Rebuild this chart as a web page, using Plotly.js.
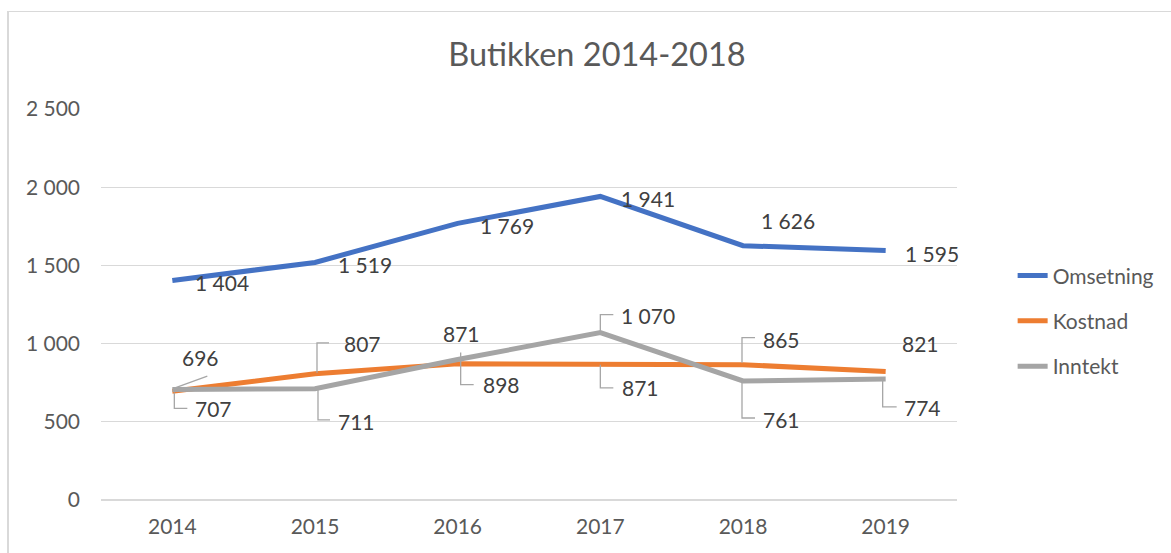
<!DOCTYPE html>
<html>
<head>
<meta charset="utf-8">
<script src="https://cdn.plot.ly/plotly-3.0.1.min.js"></script>
<style>
  html, body { margin: 0; padding: 0; overflow: hidden; background: #fff; }
  #wrap { position: relative; width: 1171px; height: 553px; overflow: hidden; }
  #chart { width: 1171px; height: 553px; }
  #frame { position: absolute; left: 7px; top: 11px; width: 2000px; height: 2000px;
           border-left: 2px solid #D9D9D9; border-top: 1.5px solid #D9D9D9; pointer-events: none; }
</style>
</head>
<body>
<div id="wrap"><div id="chart"></div><div id="frame"></div></div>
<script>
// ---- data ----
const years = ['2014', '2015', '2016', '2017', '2018', '2019'];
const omsetning = [1404, 1519, 1769, 1941, 1626, 1595];
const kostnad = [696, 807, 871, 871, 865, 821];
const inntekt = [707, 711, 898, 1070, 761, 774];
const seriesNames = ['Omsetning', 'Kostnad', 'Inntekt'];
const yTicks = [0, 500, 1000, 1500, 2000, 2500];

// ---- styles ----
const colors = ['#4472C4', '#ED7D31', '#A5A5A5'];
const FONT = 'Lato, "Open Sans", sans-serif';
// label offsets from point, screen px [dx, dy(down)]
const labelOffsets = [
  [[50, 2], [50, 2], [49, 2], [48, 2], [45, -25], [46, 3]],
  [[28, -34], [47, -30], [4, -30], [40, 24], [38, -25], [35, -28]],
  [[41, 19], [41, 33], [44, 25], [48, -17], [38, 39], [37, 29]]
];
// leader lines, screen px relative to point: [x, yStart, yEnd, hookX] or diag ['d', x0,y0,x1,y1]
const leaders = [
  [null, null, null, null, null, null],
  [['d', 2, -3, 35, -15], [2, -1, -31, 14], null, [0, 1, 24, 13], [-1, -2, -27, 12], null],
  [[2, 3, 19, 15], [3, 1, 31, 15], [3, -7, 25, 16], [0, 0, -18, 13], [-1, 0, 37, 12], [-3, 0, 28, 11]]
];

function fmt(v) { return String(v).replace(/\B(?=(\d{3})+(?!\d))/g, ' '); }

const xs = years.map((_, i) => i);
const allVals = [omsetning, kostnad, inntekt];

const traces = allVals.map((vals, s) => ({
  x: xs, y: vals, type: 'scatter', mode: 'lines', name: seriesNames[s],
  legendgroup: 'g' + s,
  line: { color: colors[s], width: 5 },
  hoverinfo: 'skip'
}));

const annotations = [];
const shapes = [];
allVals.forEach((vals, s) => {
  vals.forEach((v, i) => {
    const off = labelOffsets[s][i];
    annotations.push({
      x: i, y: v, xref: 'x', yref: 'y', text: fmt(v), showarrow: false,
      xshift: off[0], yshift: -off[1],
      font: { family: FONT, size: 21, color: '#404040' }
    });
    const L = leaders[s][i];
    if (L) {
      let path;
      if (L[0] === 'd') {
        path = `M${L[1]},${-L[2]} L${L[3]},${-L[4]}`;
      } else {
        path = `M${L[0]},${-L[1]} L${L[0]},${-L[2]} L${L[3]},${-L[2]}`;
      }
      shapes.push({
        type: 'path', xref: 'x', yref: 'y', xsizemode: 'pixel', ysizemode: 'pixel',
        xanchor: i, yanchor: v, path: path,
        line: { color: '#A6A6A6', width: 1.3 }
      });
    }
  });
});

const layout = {
  width: 1171, height: 553,
  margin: { l: 101, r: 214, t: 109, b: 53, pad: 0 },
  paper_bgcolor: '#ffffff', plot_bgcolor: '#ffffff',
  separators: ', ',
  font: { family: FONT, size: 21, color: '#595959' },
  title: {
    text: 'Butikken 2014-2018', xref: 'container', x: 0.5098, xanchor: 'center',
    yref: 'container', y: 0.9005, yanchor: 'middle',
    font: { family: FONT, size: 32.5, color: '#595959' }
  },
  xaxis: {
    range: [-0.5, 5.5], tickvals: xs, ticktext: years, showgrid: false,
    zeroline: false, showline: false, ticks: '', ticklabelstandoff: 12,
    tickfont: { family: FONT, size: 21, color: '#595959' }, fixedrange: true
  },
  yaxis: {
    range: [0, 2500], tickvals: yTicks, tickformat: ',d', showgrid: true,
    gridcolor: '#D9D9D9', gridwidth: 1.3, zeroline: true, zerolinecolor: '#D9D9D9', zerolinewidth: 1.3,
    showline: false, ticks: '', ticklabelstandoff: 20,
    tickfont: { family: FONT, size: 21, color: '#595959' }, fixedrange: true
  },
  showlegend: true,
  legend: {
    x: 1.065, xanchor: 'left', y: 0.458, yanchor: 'middle',
    traceorder: 'grouped', tracegroupgap: 15,
    font: { family: FONT, size: 21, color: '#595959' },
    bgcolor: 'rgba(0,0,0,0)'
  },
  annotations: annotations,
  shapes: shapes,
  hovermode: false
};

Plotly.newPlot('chart', traces, layout, { displayModeBar: false, staticPlot: true });
</script>
</body>
</html>
